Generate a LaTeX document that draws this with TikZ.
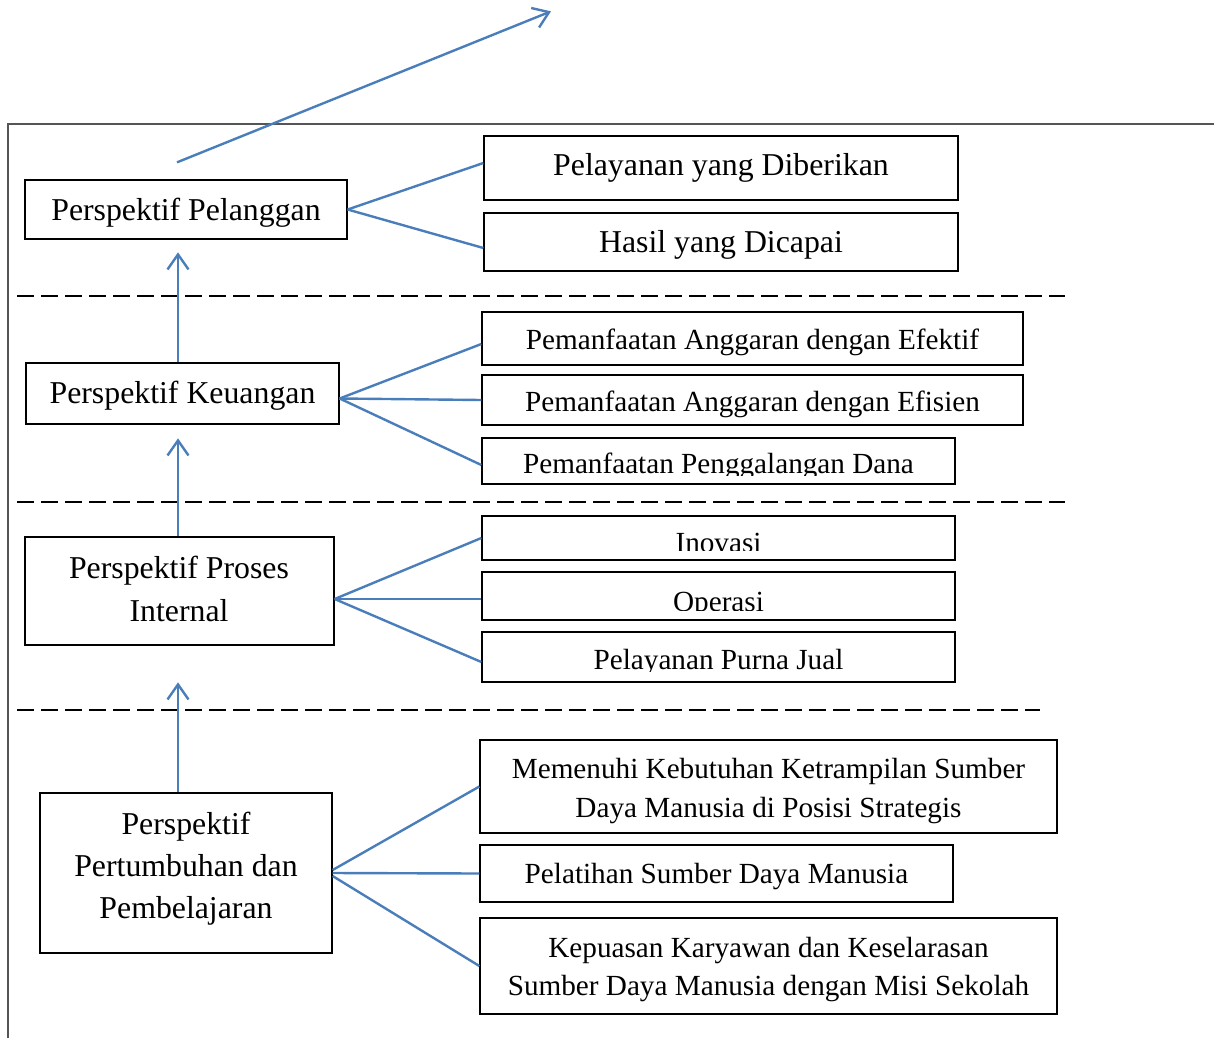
\documentclass[tikz,border=0pt]{standalone}
\usepackage{fontspec}
\setmainfont{Liberation Serif}
\usetikzlibrary{arrows.meta}
\definecolor{linkblue}{HTML}{4A7EBB}
\definecolor{framegray}{HTML}{555555}
\begin{document}
\begin{tikzpicture}[x=1pt,y=-1pt,
  box/.style={draw=black, line width=1.3pt, inner sep=0pt},
  big/.style={inner sep=0pt, anchor=base, font=\fontsize{31.8}{38}\selectfont},
  small/.style={inner sep=0pt, anchor=base, font=\fontsize{29.2}{35}\selectfont},
  link/.style={draw=linkblue, line width=2.4pt},
  uparrow/.style={link, -{Straight Barb[length=15pt,width=21pt]}},
  divider/.style={draw=black, line width=1.6pt, dash pattern=on 17pt off 7pt},
  frame/.style={draw=framegray, line width=2pt}]
\useasboundingbox (0,0) rectangle (1214,1038);

% outer frame (left and top edges)
\draw[frame] (8,1038) -- (8,124) -- (1214,124);

% level dividers
\draw[divider] (17,296) -- (1065,296);
\draw[divider] (17,502) -- (1065,502);
\draw[divider] (17,710) -- (1040,710);

% ---- customer perspective
\node[box, minimum width=322pt, minimum height=59pt] (a)  at (186,209.5) {};
\node[big] (at) at (186,220) {Perspektif Pelanggan};
\node[box, minimum width=474pt, minimum height=64pt] (a1) at (721,168) {};
\node[big] (a1t) at (721,175) {Pelayanan yang Diberikan};
\node[box, minimum width=474pt, minimum height=58pt] (a2) at (721,242) {};
\node[big] (a2t) at (721,252) {Hasil yang Dicapai};

% ---- financial perspective
\node[box, minimum width=313pt, minimum height=61pt] (b)  at (182.5,393.5) {};
\node[big] (bt) at (182.5,403) {Perspektif Keuangan};
\node[box, minimum width=541pt, minimum height=53pt] (b1) at (752.5,338.5) {};
\node[small] (b1t) at (752.5,349) {Pemanfaatan Anggaran dengan Efektif};
\node[box, minimum width=541pt, minimum height=50pt] (b2) at (752.5,400) {};
\node[small] (b2t) at (752.5,411.7) {Pemanfaatan Anggaran dengan Efisien};
\node[box, minimum width=473pt, minimum height=46pt] (b3) at (718.5,461) {};
\begin{scope}
  \clip (483,439) rectangle (954,475);
  \node[small] (b3t) at (718.5,473.4) {Pemanfaatan Penggalangan Dana};
\end{scope}

% ---- internal process perspective
\node[box, minimum width=309pt, minimum height=108pt] (c)  at (179.5,591) {};
\node[big] (ct1) at (179,578) {Perspektif Proses};
\node[big] (ct2) at (179,621) {Internal};
\node[box, minimum width=473pt, minimum height=44pt] (c1) at (718.5,538) {};
\begin{scope}
  \clip (483,517) rectangle (954,550);
  \node[small] (c1t) at (718.5,552.5) {Inovasi};
\end{scope}
\node[box, minimum width=473pt, minimum height=48pt] (c2) at (718.5,596) {};
\begin{scope}
  \clip (483,573) rectangle (954,610);
  \node[small] (c2t) at (718.5,611.4) {Operasi};
\end{scope}
\node[box, minimum width=473pt, minimum height=50pt] (c3) at (718.5,657) {};
\begin{scope}
  \clip (483,633) rectangle (954,671);
  \node[small] (c3t) at (718.5,669.4) {Pelayanan Purna Jual};
\end{scope}

% ---- learning and growth perspective
\node[box, minimum width=292pt, minimum height=160pt] (d)  at (186,873) {};
\node[big] (dt1) at (186,834) {Perspektif};
\node[big] (dt2) at (186,876) {Pertumbuhan dan};
\node[big] (dt3) at (186,918) {Pembelajaran};
\node[box, minimum width=577pt, minimum height=93pt] (d1) at (768.5,786.5) {};
\node[small] (d1t1) at (768.5,778) {Memenuhi Kebutuhan Ketrampilan Sumber};
\node[small] (d1t2) at (768.5,817) {Daya Manusia di Posisi Strategis};
\node[box, minimum width=473pt, minimum height=57pt] (d2) at (716.5,873.5) {};
\node[small] (d2t) at (716.5,883) {Pelatihan Sumber Daya Manusia};
\node[box, minimum width=577pt, minimum height=96pt] (d3) at (768.5,966) {};
\node[small] (d3t1) at (768.5,957) {Kepuasan Karyawan dan Keselarasan};
\node[small] (d3t2) at (768.5,995) {Sumber Daya Manusia dengan Misi Sekolah};

% ---- fan-out connectors
\draw[link] (a.east) -- ([yshift=5pt]a1.west);
\draw[link] (a.east) -- ([yshift=-6pt]a2.west);

\draw[link] ([yshift=-5pt]b.east) -- ([yshift=-5.5pt]b1.west);
\draw[link] ([yshift=-5pt]b.east) -- (b2.west);
\draw[link] ([yshift=-5pt]b.east) -- ([yshift=-4pt]b3.west);

\draw[link] ([yshift=-8pt]c.east) -- (c1.west);
\draw[link] ([yshift=-8pt]c.east) -- ([yshift=-3pt]c2.west);
\draw[link] ([yshift=-8pt]c.east) -- ([yshift=-5pt]c3.west);

\draw[link] ([yshift=3pt]d.east) -- (d1.west);
\draw[link] (d.east) -- (d2.west);
\draw[link] ([yshift=-3pt]d.east) -- (d3.west);

% ---- upward arrows between perspectives
\draw[uparrow] ([xshift=-8pt]d.north) -- ++(0,-110);
\draw[uparrow] ([xshift=-1.5pt]c.north) -- ++(0,-98);
\draw[uparrow] ([xshift=-4.5pt]b.north) -- ++(0,-110);
\draw[uparrow] ([xshift=-9pt,yshift=17pt]a.north) -- ++(374,-151);
\end{tikzpicture}
\end{document}
